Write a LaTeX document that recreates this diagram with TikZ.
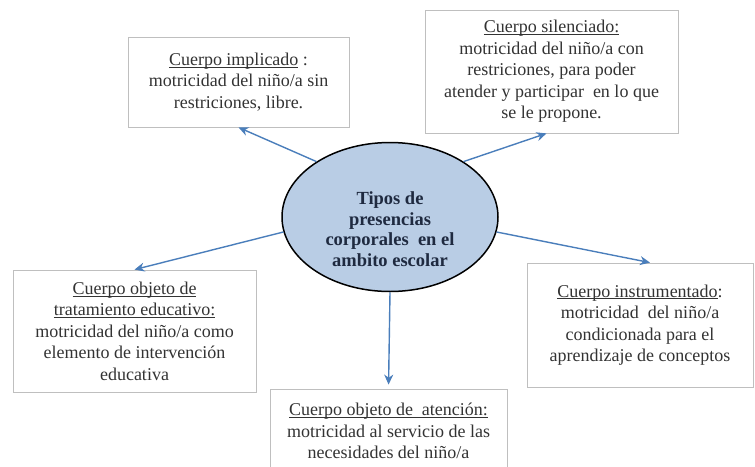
\documentclass[tikz,border=0pt]{standalone}
\usepackage{fontspec}
\setmainfont{Liberation Serif}
\usetikzlibrary{shapes.geometric,arrows.meta,calc}
\definecolor{txt}{HTML}{333333}
\definecolor{boxline}{HTML}{BFBFBF}
\definecolor{arrc}{HTML}{4A7EBB}
\definecolor{circfill}{HTML}{B9CDE5}
\definecolor{navy}{HTML}{1F2A40}
\newcommand\myul[1]{\setbox0\hbox{#1}\rlap{\rule[-2.2pt]{\wd0}{0.8pt}}\box0\relax}
\tikzset{
  infobox/.style={draw=boxline, line width=0.8pt, fill=white, align=center, inner sep=0pt,
    text=txt, font=\fontsize{18}{21.5}\selectfont},
  arr/.style={draw=arrc, line width=1.4pt, -{Stealth[length=10pt,width=9pt]}},
}
\begin{document}
\begin{tikzpicture}[x=1pt,y=-1pt]
\useasboundingbox (0,0) rectangle (755,466);
% boxes
\node[infobox, minimum width=221pt, minimum height=90pt] (b1) at (238.5,82)
  {\myul{Cuerpo implicado} :\\motricidad del niño/a sin\\restriciones, libre.};
\node[infobox, minimum width=253pt, minimum height=123pt] (b2) at (551.5,71.5)
  {\myul{Cuerpo silenciado:}\\motricidad del niño/a con\\restriciones, para poder\\atender y participar\ \ en lo que\\se le propone.};
\node[infobox, minimum width=243pt, minimum height=122pt] (b4) at (134.5,331)
  {\myul{Cuerpo objeto de}\\\myul{tratamiento educativo:}\\motricidad del niño/a como\\elemento de intervención\\educativa};
\node[infobox, minimum width=226pt, minimum height=124pt] (b5) at (640,325)
  {\myul{Cuerpo instrumentado}:\\motricidad\ \ del niño/a\\condicionada para el\\aprendizaje de conceptos};
\node[infobox, minimum width=237pt, minimum height=84pt] (b6) at (388.5,431)
  {\myul{Cuerpo objeto de\ \ atención:}\\motricidad al servicio de las\\necesidades del niño/a};
% centre
\node[ellipse, draw=black, line width=1.5pt, fill=circfill, minimum width=216pt, minimum height=149pt, inner sep=0pt] (c) at (390,217) {};
\node[align=center, text=navy, font=\bfseries\fontsize{18.5}{20.5}\selectfont] (ct) at (390,229)
  {Tipos de\\presencias\\corporales\ \ en el\\ambito escolar};
% connectors
\draw[arr] (c.143) -- (b1.south);
\draw[arr] (c.37) -- ($(b2.south)+(-5,0)$);
\draw[arr] (c.188) -- (b4.north);
\draw[arr] (c.352) -- ($(b5.north)+(10,0)$);
\draw[arr, shorten >=4pt] (c.south) -- (b6.north);
\end{tikzpicture}
\end{document}
